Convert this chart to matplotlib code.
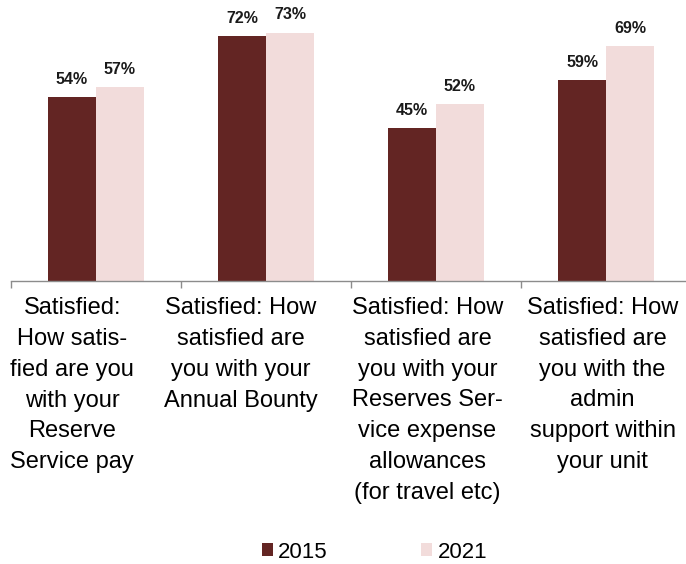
import matplotlib.pyplot as plt
import numpy as np

plt.rcParams['font.family'] = ['Liberation Sans', 'DejaVu Sans']

categories = [
    "Satisfied:\nHow satis-\nfied are you\nwith your\nReserve\nService pay",
    "Satisfied: How\nsatisfied are\nyou with your\nAnnual Bounty",
    "Satisfied: How\nsatisfied are\nyou with your\nReserves Ser-\nvice expense\nallowances\n(for travel etc)",
    "Satisfied: How\nsatisfied are\nyou with the\nadmin\nsupport within\nyour unit",
]
years = ["2015", "2021"]
vals_2015 = [54, 72, 45, 59]
vals_2021 = [57, 73, 52, 69]

col_2015 = "#632523"
col_2021 = "#F2DCDB"

# wrapped labels sit a little left of the category centre
label_shift = [-0.14, -0.15, -0.05, -0.02]

fig = plt.figure(figsize=(6.86, 5.64), dpi=100)
ax = fig.add_axes([11 / 686, 283 / 564, 680 / 686, 272 / 564])

x = np.arange(len(categories))
w = 0.282
b1 = ax.bar(x - w / 2, vals_2015, w, color=col_2015, label=years[0])
b2 = ax.bar(x + w / 2, vals_2021, w, color=col_2021, label=years[1])

for bars in (b1, b2):
    for rect in bars:
        v = rect.get_height()
        ax.annotate(f"{v:.0f}%", (rect.get_x() + rect.get_width() / 2, v),
                    xytext=(0, 7.5), textcoords="offset points",
                    ha="center", va="bottom", fontsize=11.5,
                    fontweight="bold", color="#1a1a1a")

ax.set_xlim(-0.5, 3.5)
ax.set_ylim(0, 80)
ax.set_yticks([])
for s in ("top", "right", "left"):
    ax.spines[s].set_visible(False)
ax.spines["bottom"].set_color("#8c8c8c")
ax.spines["bottom"].set_linewidth(1.0)

# category boundaries as ticks, labels placed separately
ax.set_xticks(np.arange(-0.5, 4, 1.0))
ax.set_xticklabels([])
ax.tick_params(axis="x", length=5, color="#8c8c8c", width=1.0)
for i, lab in enumerate(categories):
    ax.text(i + label_shift[i], -4.7, lab, ha="center", va="top",
            fontsize=17, linespacing=1.52, color="black")

leg = fig.legend(handles=[b1, b2], labels=years, loc="center",
                 bbox_to_anchor=(374.5 / 686, 1 - 552 / 564), ncol=2,
                 frameon=False, fontsize=16, handlelength=0.5,
                 handleheight=0.5, handletextpad=0.25, columnspacing=4.2)

fig.savefig("out.png", dpi=100)
